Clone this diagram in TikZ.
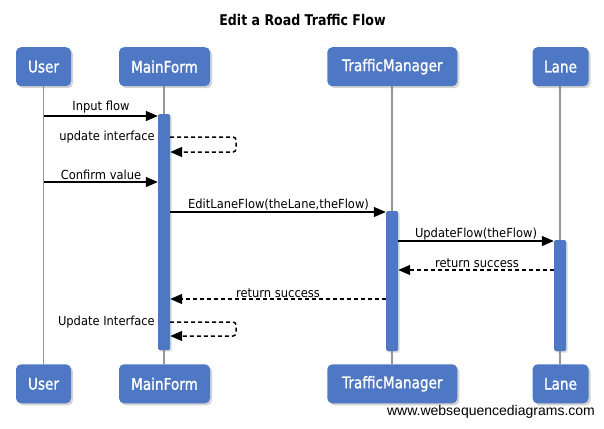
\documentclass[tikz,border=0pt]{standalone}
\usepackage{fontspec}
\setmainfont{DejaVu Sans}
\newfontfamily\partfont[FakeStretch=0.85,FakeBold=1.2]{DejaVu Sans}
\newfontfamily\lblfont[FakeStretch=0.92]{DejaVu Sans}
\newfontfamily\titlefont[FakeStretch=0.85]{DejaVu Sans Bold}
\newfontfamily\footfont{Liberation Sans}
\usetikzlibrary{arrows.meta,shadows}
\definecolor{partblue}{RGB}{79,120,196}
\definecolor{lifegray}{RGB}{150,150,150}
\begin{document}
\begin{tikzpicture}[x=1pt,y=-1pt,
  part/.style={fill=partblue, rounded corners=5pt, text=white,
    font=\partfont\fontsize{16}{18}\selectfont, minimum height=39pt, inner sep=0pt,
    drop shadow={opacity=0.35, shadow xshift=2pt, shadow yshift=-2pt}},
  bar/.style={fill=partblue, rounded corners=1.5pt, minimum width=12pt, inner sep=0pt,
    drop shadow={opacity=0.3, shadow xshift=1.5pt, shadow yshift=-1.5pt}},
  life/.style={draw=lifegray, line width=1.5pt},
  msg/.style={line width=1.5pt, -{Triangle[length=12pt,width=10pt]}},
  ret/.style={line width=1.5pt, dash pattern=on 4pt off 3pt, -{Triangle[length=12pt,width=10pt]}},
  lbl/.style={font=\lblfont\fontsize{12.5}{14}\selectfont, inner sep=0pt}
]
\useasboundingbox (0,0) rectangle (604,428);

\node[font=\titlefont\fontsize{14.8}{17}\selectfont] (title) at (302.5,19.5) {Edit a Road Traffic Flow};

% lifelines (drawn first, behind everything)
\coordinate (uT) at (43.5,86); \coordinate (uB) at (43.5,364);
\coordinate (mT) at (164,86); \coordinate (mB) at (164,364);
\coordinate (tT) at (392,86); \coordinate (tB) at (392,364);
\coordinate (lT) at (560,86); \coordinate (lB) at (560,364);
\draw[life] (uT) -- (uB);
\draw[life] (mT) -- (mB);
\draw[life] (tT) -- (tB);
\draw[life] (lT) -- (lB);

% participants
\node[part, minimum width=55pt] (uTop) at (43.5,66.7) {User};
\node[part, minimum width=91pt] (mTop) at (164.5,66.7) {MainForm};
\node[part, minimum width=130pt] (tTop) at (392.3,66.7) {TrafficManager};
\node[part, minimum width=56pt] (lTop) at (560.5,66.7) {Lane};

\node[part, minimum width=55pt] (uBot) at (43.5,383.8) {User};
\node[part, minimum width=91pt] (mBot) at (164.5,383.8) {MainForm};
\node[part, minimum width=130pt] (tBot) at (392.3,383.8) {TrafficManager};
\node[part, minimum width=56pt] (lBot) at (560.5,383.8) {Lane};

% activation bars
\node[bar, minimum height=236pt] (actM) at (164,232) {};
\node[bar, minimum height=140pt] (actT) at (392,281) {};
\node[bar, minimum height=111pt] (actL) at (560,295.5) {};

% messages
\draw[msg] (uT |- 0,116) -- (actM.west |- 0,116);
\node[lbl] (l1) at (101,107) {Input flow};

\draw[ret, rounded corners=3pt] (actM.east |- 0,137) -- (236,137) -- (236,152) -- (actM.east |- 0,152);
\node[lbl, anchor=east] (l2) at (155,137) {update interface};

\draw[msg] (uT |- 0,182) -- (actM.west |- 0,182);
\node[lbl] (l3) at (101,175) {Confirm value};

\draw[msg] (actM.east |- 0,212) -- (actT.west |- 0,212);
\node[lbl] (l4) at (278.5,204.5) {EditLaneFlow(theLane,theFlow)};

\draw[msg] (actT.east |- 0,241) -- (actL.west |- 0,241);
\node[lbl] (l5) at (476,234) {UpdateFlow(theFlow)};

\draw[ret] (actL.west |- 0,270) -- (actT.east |- 0,270);
\node[lbl] (l6) at (477,263) {return success};

\draw[ret] (actT.west |- 0,299) -- (actM.east |- 0,299);
\node[lbl] (l7) at (278,293) {return success};

\draw[ret, rounded corners=3pt] (actM.east |- 0,322) -- (236,322) -- (236,336) -- (actM.east |- 0,336);
\node[lbl, anchor=east] (l8) at (155,322) {Update Interface};

\node[font=\footfont\fontsize{14}{16}\selectfont] (foot) at (491,412) {www.websequencediagrams.com};
\end{tikzpicture}
\end{document}
